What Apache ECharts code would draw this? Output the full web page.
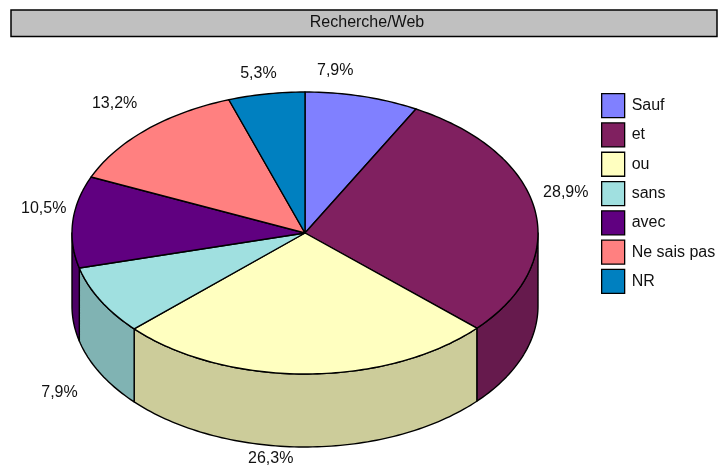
<!DOCTYPE html>
<html>
<head>
<meta charset="utf-8">
<style>html,body{margin:0;padding:0;background:#fff;overflow:hidden}#c{width:718px;height:467px}</style>
<script src="https://cdn.jsdelivr.net/npm/echarts@6/dist/echarts.min.js"></script>
</head>
<body>
<div id="c"></div>
<script>
const titleText = 'Recherche/Web';
const categories = ['Sauf', 'et', 'ou', 'sans', 'avec', 'Ne sais pas', 'NR'];
const values = [7.9, 28.9, 26.3, 7.9, 10.5, 13.2, 5.3];
const topColors = ['#8080FF', '#802060', '#FFFFC0', '#A0E0E0', '#600080', '#FF8080', '#0080C0'];
const wallColors = ['#6666CC', '#661A4D', '#CCCC9A', '#80B3B3', '#4D0066', '#CC6666', '#00669A'];
// layout of the projected pie
const cx = 305, cy = 233, rx = 233, ry = 141, depth = 73;
// label offset from the point of the rim at each slice's middle angle
const labelNudge = [[-27, -26], [31, -17], [-35, 12], [-41, 19], [-29, -13], [-32, -26], [-8, -20]];

const total = values.reduce((a, b) => a + b, 0);
const rim = (t, dy) => [cx + rx * Math.sin(t), cy - ry * Math.cos(t) + (dy || 0)];
const arc = (a, b, dy) => {
  const n = Math.max(2, Math.ceil(Math.abs(b - a) / 0.02));
  const out = [];
  for (let i = 0; i <= n; i++) out.push(rim(a + (b - a) * i / n, dy));
  return out;
};
const fmt = v => v.toFixed(1).replace('.', ',') + '%';

function sliceRenderer(idx) {
  return function (params, api) {
    const v = api.value(0);
    const before = values.slice(0, idx).reduce((a, b) => a + b, 0);
    const a = before / total * 2 * Math.PI;
    const b = (before + v) / total * 2 * Math.PI;
    const children = [];
    const line = { stroke: '#000', lineWidth: 1.4, lineJoin: 'round' };
    // front wall: only the part of the rim between 90 and 270 degrees
    const fa = Math.max(a, Math.PI / 2), fb = Math.min(b, Math.PI * 1.5);
    if (fb > fa) {
      children.push({
        type: 'polygon',
        shape: { points: arc(fa, fb, 0).concat(arc(fb, fa, depth)) },
        style: Object.assign({ fill: wallColors[idx] }, line)
      });
    }
    children.push({
      type: 'polygon',
      shape: { points: [[cx, cy]].concat(arc(a, b, 0)) },
      style: Object.assign({ fill: topColors[idx] }, line)
    });
    const m = (a + b) / 2;
    const p = rim(m, m > Math.PI / 2 && m < Math.PI * 1.5 ? depth : 0);
    children.push({
      type: 'text',
      style: {
        x: p[0] + labelNudge[idx][0], y: p[1] + labelNudge[idx][1],
        text: fmt(v), align: 'center', verticalAlign: 'middle',
        fontFamily: 'Liberation Sans', fontSize: 16, fill: '#111'
      }
    });
    return { type: 'group', children: children };
  };
}

const chart = echarts.init(document.getElementById('c'), null, { renderer: 'canvas' });
chart.setOption({
  animation: false,
  backgroundColor: '#fff',
  title: {
    text: titleText, left: 367, top: 23, textAlign: 'center', textVerticalAlign: 'middle', padding: 0,
    textStyle: { fontFamily: 'Liberation Sans', fontSize: 16, fontWeight: 'normal', color: '#111' }
  },
  graphic: [{
    type: 'rect', z: -1, silent: true,
    shape: { x: 11, y: 10, width: 706, height: 26.5 },
    style: { fill: '#C0C0C0', stroke: '#000', lineWidth: 1.5 }
  }],
  legend: {
    orient: 'vertical', left: 601, top: 93, padding: 0,
    itemWidth: 23, itemHeight: 24, itemGap: 4,
    icon: 'rect',
    data: categories,
    itemStyle: { borderColor: '#000', borderWidth: 1.3 },
    textStyle: { fontFamily: 'Liberation Sans', fontSize: 16, color: '#111', padding: [0, 0, 0, 2] },
    selectedMode: false
  },
  series: categories.map((name, i) => ({
    type: 'custom',
    name: name,
    coordinateSystem: 'none',
    itemStyle: { color: topColors[i] },
    data: [[values[i]]],
    renderItem: sliceRenderer(i),
    silent: true
  }))
});
</script>
</body>
</html>
